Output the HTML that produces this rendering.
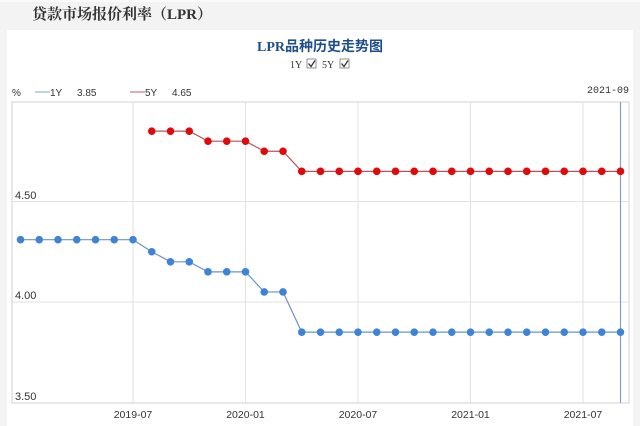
<!DOCTYPE html>
<html><head><meta charset="utf-8"><style>
html,body{margin:0;padding:0;background:#f2f2f2;}
body{width:640px;height:426px;overflow:hidden;position:relative;font-family:"Liberation Sans","Noto Sans CJK SC",sans-serif;}
</style></head><body>
<svg width="640" height="426" viewBox="0 0 640 426" xmlns="http://www.w3.org/2000/svg" style="position:absolute;left:0;top:0">
<rect x="0" y="0" width="640" height="426" fill="#f3f3f3"/>
<rect x="0" y="0" width="640" height="2" fill="#fafafa"/>
<rect x="7" y="30" width="626" height="396" fill="#ffffff"/>
<text x="32" y="19" font-size="15" font-weight="bold" fill="#333" font-family="'Liberation Serif','Noto Serif CJK SC',serif">贷款市场报价利率（LPR）</text>
<text x="320" y="51" font-size="14" font-weight="bold" text-anchor="middle" fill="#1f4f8a" font-family="'Liberation Serif','Noto Sans CJK SC',serif">LPR品种历史走势图</text>
<g font-family="'Liberation Serif',serif" font-size="10" fill="#333">
<text x="290" y="68">1Y</text>
<rect x="307" y="59" width="9" height="9" fill="#fff" stroke="#777" stroke-width="0.8"/>
<path d="M308.5 63.5 L311 66.5 L315 60.5" stroke="#333" stroke-width="1.3" fill="none"/>
<text x="322" y="68">5Y</text>
<rect x="340" y="59" width="9" height="9" fill="#fff" stroke="#777" stroke-width="0.8"/>
<path d="M341.5 63.5 L344 66.5 L348 60.5" stroke="#333" stroke-width="1.3" fill="none"/>
</g>
<g font-size="10" fill="#333">
<text x="12" y="96">%</text>
<line x1="35" y1="92" x2="50" y2="92" stroke="#8fb3d8" stroke-width="1.2"/>
<text x="50" y="96">1Y</text>
<text x="77" y="96">3.85</text>
<line x1="130" y1="92" x2="145" y2="92" stroke="#c77" stroke-width="1.2"/>
<text x="145" y="96">5Y</text>
<text x="172" y="96">4.65</text>
<text x="629" y="93" text-anchor="end" font-family="'Liberation Mono',monospace" font-size="10">2021-09</text>
</g>
<rect x="12" y="102" width="617" height="301" fill="#fff" stroke="#d0d0d0" stroke-width="1"/>
<g stroke="#e2e2e2" stroke-width="1">
<line x1="12" y1="201.5" x2="629" y2="201.5"/>
<line x1="12" y1="302" x2="629" y2="302"/>
<line x1="133" y1="102" x2="133" y2="403"/>
<line x1="245.5" y1="102" x2="245.5" y2="403"/>
<line x1="358" y1="102" x2="358" y2="403"/>
<line x1="470.5" y1="102" x2="470.5" y2="403"/>
<line x1="583" y1="102" x2="583" y2="403"/>
</g>
<line x1="620.5" y1="102" x2="620.5" y2="403" stroke="#7f9fc6" stroke-width="1.2"/>
<g font-size="11" fill="#333">
<text x="15" y="199">4.50</text>
<text x="15" y="299">4.00</text>
<text x="15" y="400">3.50</text>
</g>
<g font-size="10.5" fill="#333" text-anchor="middle">
<text x="133" y="418">2019-07</text>
<text x="245.5" y="418">2020-01</text>
<text x="358" y="418">2020-07</text>
<text x="470.5" y="418">2021-01</text>
<text x="583" y="418">2021-07</text>
</g>
<!-- 1Y series -->
<polyline fill="none" stroke="#6a95c8" stroke-width="1.2" points="20.5,239.7 133,239.7 151.75,251.75 170.5,261.8 189.25,261.8 208,271.85 245.5,271.85 264.25,291.95 283,291.95 301.75,332.15 620.5,332.15"/>
<g fill="#3f83d6">
<circle cx="20.5" cy="239.7" r="3.8"/>
<circle cx="39.25" cy="239.7" r="3.8"/>
<circle cx="58" cy="239.7" r="3.8"/>
<circle cx="76.75" cy="239.7" r="3.8"/>
<circle cx="95.5" cy="239.7" r="3.8"/>
<circle cx="114.25" cy="239.7" r="3.8"/>
<circle cx="133" cy="239.7" r="3.8"/>
<circle cx="151.75" cy="251.75" r="3.8"/>
<circle cx="170.5" cy="261.8" r="3.8"/>
<circle cx="189.25" cy="261.8" r="3.8"/>
<circle cx="208" cy="271.85" r="3.8"/>
<circle cx="226.75" cy="271.85" r="3.8"/>
<circle cx="245.5" cy="271.85" r="3.8"/>
<circle cx="264.25" cy="291.95" r="3.8"/>
<circle cx="283" cy="291.95" r="3.8"/>
<circle cx="301.75" cy="332.15" r="3.8"/>
<circle cx="320.5" cy="332.15" r="3.8"/>
<circle cx="339.25" cy="332.15" r="3.8"/>
<circle cx="358" cy="332.15" r="3.8"/>
<circle cx="376.75" cy="332.15" r="3.8"/>
<circle cx="395.5" cy="332.15" r="3.8"/>
<circle cx="414.25" cy="332.15" r="3.8"/>
<circle cx="433" cy="332.15" r="3.8"/>
<circle cx="451.75" cy="332.15" r="3.8"/>
<circle cx="470.5" cy="332.15" r="3.8"/>
<circle cx="489.25" cy="332.15" r="3.8"/>
<circle cx="508" cy="332.15" r="3.8"/>
<circle cx="526.75" cy="332.15" r="3.8"/>
<circle cx="545.5" cy="332.15" r="3.8"/>
<circle cx="564.25" cy="332.15" r="3.8"/>
<circle cx="583" cy="332.15" r="3.8"/>
<circle cx="601.75" cy="332.15" r="3.8"/>
<circle cx="620.5" cy="332.15" r="3.8"/>
</g>
<!-- 5Y series -->
<polyline fill="none" stroke="#b5545a" stroke-width="1.2" points="151.75,131.15 189.25,131.15 208,141.2 245.5,141.2 264.25,151.25 283,151.25 301.75,171.35 620.5,171.35"/>
<g fill="#e00a0a">
<circle cx="151.75" cy="131.15" r="3.8"/>
<circle cx="170.5" cy="131.15" r="3.8"/>
<circle cx="189.25" cy="131.15" r="3.8"/>
<circle cx="208" cy="141.2" r="3.8"/>
<circle cx="226.75" cy="141.2" r="3.8"/>
<circle cx="245.5" cy="141.2" r="3.8"/>
<circle cx="264.25" cy="151.25" r="3.8"/>
<circle cx="283" cy="151.25" r="3.8"/>
<circle cx="301.75" cy="171.35" r="3.8"/>
<circle cx="320.5" cy="171.35" r="3.8"/>
<circle cx="339.25" cy="171.35" r="3.8"/>
<circle cx="358" cy="171.35" r="3.8"/>
<circle cx="376.75" cy="171.35" r="3.8"/>
<circle cx="395.5" cy="171.35" r="3.8"/>
<circle cx="414.25" cy="171.35" r="3.8"/>
<circle cx="433" cy="171.35" r="3.8"/>
<circle cx="451.75" cy="171.35" r="3.8"/>
<circle cx="470.5" cy="171.35" r="3.8"/>
<circle cx="489.25" cy="171.35" r="3.8"/>
<circle cx="508" cy="171.35" r="3.8"/>
<circle cx="526.75" cy="171.35" r="3.8"/>
<circle cx="545.5" cy="171.35" r="3.8"/>
<circle cx="564.25" cy="171.35" r="3.8"/>
<circle cx="583" cy="171.35" r="3.8"/>
<circle cx="601.75" cy="171.35" r="3.8"/>
<circle cx="620.5" cy="171.35" r="3.8"/>
</g>
</svg>
</body></html>
